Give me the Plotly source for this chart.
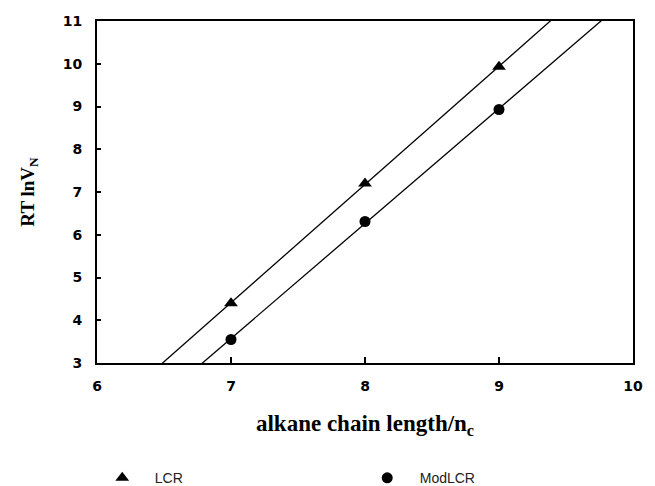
import numpy as np
import plotly.graph_objects as go

nc = [7, 8, 9]
lcr = [4.40, 7.20, 9.93]
modlcr = [3.55, 6.31, 8.93]
series_names = ["LCR", "ModLCR"]
xticks = [6, 7, 8, 9, 10]
yticks = [3, 4, 5, 6, 7, 8, 9, 10, 11]

fig = go.Figure()

xfit = np.array([6.0, 10.0])
for vals, sym, name, sz in [(lcr, "triangle-up", series_names[0], 12), (modlcr, "circle", series_names[1], 11)]:
    k, b = np.polyfit(nc, vals, 1)
    fig.add_trace(go.Scatter(x=xfit, y=k * xfit + b, mode="lines",
                             line=dict(color="black", width=1.3), showlegend=False,
                             hoverinfo="skip"))
    fig.add_trace(go.Scatter(x=nc, y=vals, mode="markers", name=name,
                             marker=dict(symbol=sym, size=sz, color="black")))

tickfont = dict(family="DejaVu Sans", size=14, color="black", weight="bold")

fig.update_layout(
    width=655, height=486,
    margin=dict(l=97, r=12, t=21, b=123),
    plot_bgcolor="white", paper_bgcolor="white",
    showlegend=True,
    legend=dict(orientation="h", xref="container", yref="container",
                x=0.137, xanchor="left", y=0.016, yanchor="middle",
                itemwidth=55, entrywidth=195, entrywidthmode="pixels",
                font=dict(family="Liberation Sans", size=14, color="#222")),
    xaxis=dict(range=[6, 10], tickvals=xticks, ticktext=[f"<b>{v}</b>" for v in xticks],
               ticks="inside", ticklen=6,
               tickwidth=1.5, tickcolor="black", showgrid=False, zeroline=False,
               showline=True, linecolor="black", linewidth=2, mirror=True,
               ticklabelstandoff=9, tickfont=tickfont,
               title=dict(text="alkane chain length/n<sub>c</sub>", standoff=22,
                          font=dict(family="Liberation Serif", size=23, color="black", weight="bold"))),
    yaxis=dict(range=[3, 11], tickvals=yticks, ticktext=[f"<b>{v}</b>" for v in yticks],
               ticks="inside", ticklen=4,
               tickwidth=1.5, tickcolor="black", showgrid=False, zeroline=False,
               showline=True, linecolor="black", linewidth=2, mirror=True,
               ticklabelstandoff=10, tickfont=tickfont,
               title=dict(text="RT lnV<sub>N</sub>", standoff=23,
                          font=dict(family="Liberation Serif", size=19, color="black", weight="bold"))),
)

fig.write_html("out.html")
